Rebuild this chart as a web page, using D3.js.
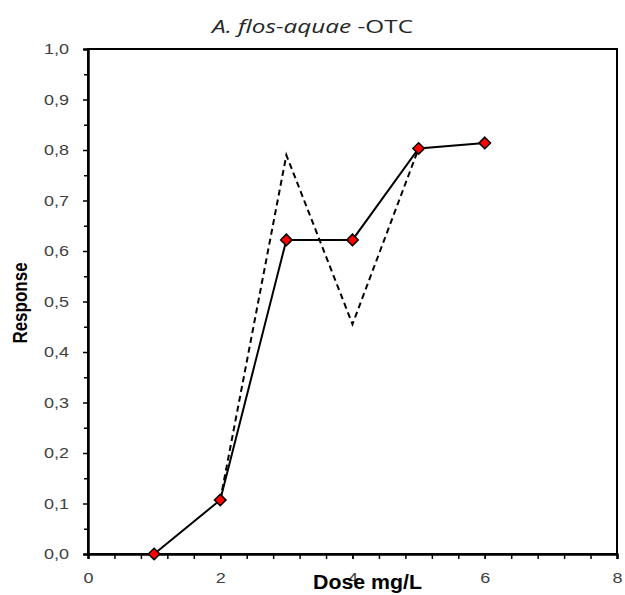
<!DOCTYPE html>
<html><head><meta charset="utf-8">
<script src="https://cdn.jsdelivr.net/npm/d3@7"></script>
<style>body{margin:0;background:#fff}</style>
</head><body>
<svg id="c" width="625" height="595"></svg>
<script>
const doses = [1, 2, 3, 4, 5, 6];
const observed = [0, 0.107, 0.622, 0.622, 0.803, 0.814];
const fitDoses = [2, 3, 4, 5];
const fitted = [0.107, 0.79, 0.455, 0.803];
const xTickLabels = [0, 2, 4, 6, 8];
const yTickLabels = [0, 0.1, 0.2, 0.3, 0.4, 0.5, 0.6, 0.7, 0.8, 0.9, 1.0];

const svg = d3.select("#c");
const m = {l: 88, r: 617, t: 49, b: 554};
const x = d3.scaleLinear().domain([0, 8]).range([m.l, m.r]);
const y = d3.scaleLinear().domain([0, 1]).range([m.b, m.t]);
const fmt = d => d3.format(".1f")(d).replace(".", ",");
const SX = 1.2;

// frame
svg.append("rect").attr("x", m.l).attr("y", m.t).attr("width", m.r - m.l).attr("height", m.b - m.t)
  .attr("fill", "none").attr("stroke", "#000").attr("stroke-width", 2);

// y axis
const yg = svg.append("g").attr("transform", `translate(${m.l},0)`)
  .call(d3.axisLeft(y).tickValues(yTickLabels).tickFormat(fmt).tickSize(5).tickPadding(14));
svg.append("g").attr("transform", `translate(${m.l},0)`)
  .call(d3.axisLeft(y).tickValues(d3.range(0.05, 1, 0.1)).tickFormat("").tickSize(4));
// x axis
const xg = svg.append("g").attr("transform", `translate(0,${m.b})`)
  .call(d3.axisBottom(x).tickValues(xTickLabels).tickFormat(d => d).tickSize(5).tickPadding(13));
svg.append("g").attr("transform", `translate(0,${m.b})`)
  .call(d3.axisBottom(x).tickValues(d3.range(0.4, 8, 0.4)).tickFormat("").tickSize(5));
svg.selectAll(".domain").attr("stroke", "#000").attr("stroke-width", 2);
svg.selectAll(".tick line").attr("stroke", "#000").attr("stroke-width", 1.5);
svg.selectAll(".tick text").attr("font-family", "Liberation Sans, Arial, sans-serif")
  .attr("font-size", 15).attr("fill", "#404040");
// horizontally stretched tick text, as in the reference
yg.selectAll(".tick text").each(function() {
  const t = d3.select(this); const xx = +t.attr("x");
  t.attr("x", 0).attr("transform", `translate(${xx},0) scale(${SX},1)`);
});
xg.selectAll(".tick text").each(function() {
  const t = d3.select(this); const yy = +t.attr("y");
  t.attr("y", 0).attr("transform", `translate(0,${yy}) scale(${SX},1)`);
});

// lines
const line = d3.line().x(d => x(d[0])).y(d => y(d[1]));
svg.append("path").datum(fitDoses.map((d, i) => [d, fitted[i]]))
  .attr("d", line).attr("fill", "none").attr("stroke", "#000").attr("stroke-width", 2)
  .attr("stroke-dasharray", "6,4");
svg.append("path").datum(doses.map((d, i) => [d, observed[i]]))
  .attr("d", line).attr("fill", "none").attr("stroke", "#000").attr("stroke-width", 2);

// markers
svg.selectAll(".mk").data(doses.map((d, i) => [d, observed[i]])).join("path")
  .attr("class", "mk")
  .attr("d", d3.symbol(d3.symbolDiamond2 || d3.symbolDiamond, 85))
  .attr("transform", d => `translate(${x(d[0])},${y(d[1])})`)
  .attr("fill", "#ff0000").attr("stroke", "#000").attr("stroke-width", 1.5);

// title
const t = svg.append("text").attr("x", 312.5).attr("y", 33).attr("text-anchor", "middle")
  .attr("font-family", "Open Sans, Noto Sans, sans-serif").attr("font-size", 18).attr("fill", "#262626")
  .attr("textLength", 201).attr("lengthAdjust", "spacingAndGlyphs");
t.append("tspan").attr("font-style", "italic").text("A. flos-aquae");
t.append("tspan").text(" -OTC");

// axis labels
svg.append("text").attr("transform", `translate(27,303) scale(${SX},1) rotate(-90)`).attr("text-anchor", "middle")
  .attr("font-family", "Liberation Sans, Arial, sans-serif").attr("font-weight", "bold").attr("font-size", 17)
  .attr("fill", "#000").text("Response");
svg.append("text").attr("x", 367.5).attr("y", 589).attr("text-anchor", "middle")
  .attr("font-family", "Liberation Sans, Arial, sans-serif").attr("font-weight", "bold").attr("font-size", 19.5)
  .attr("textLength", 109).attr("lengthAdjust", "spacingAndGlyphs")
  .attr("fill", "#000").text("Dose mg/L");
</script>
</body></html>
